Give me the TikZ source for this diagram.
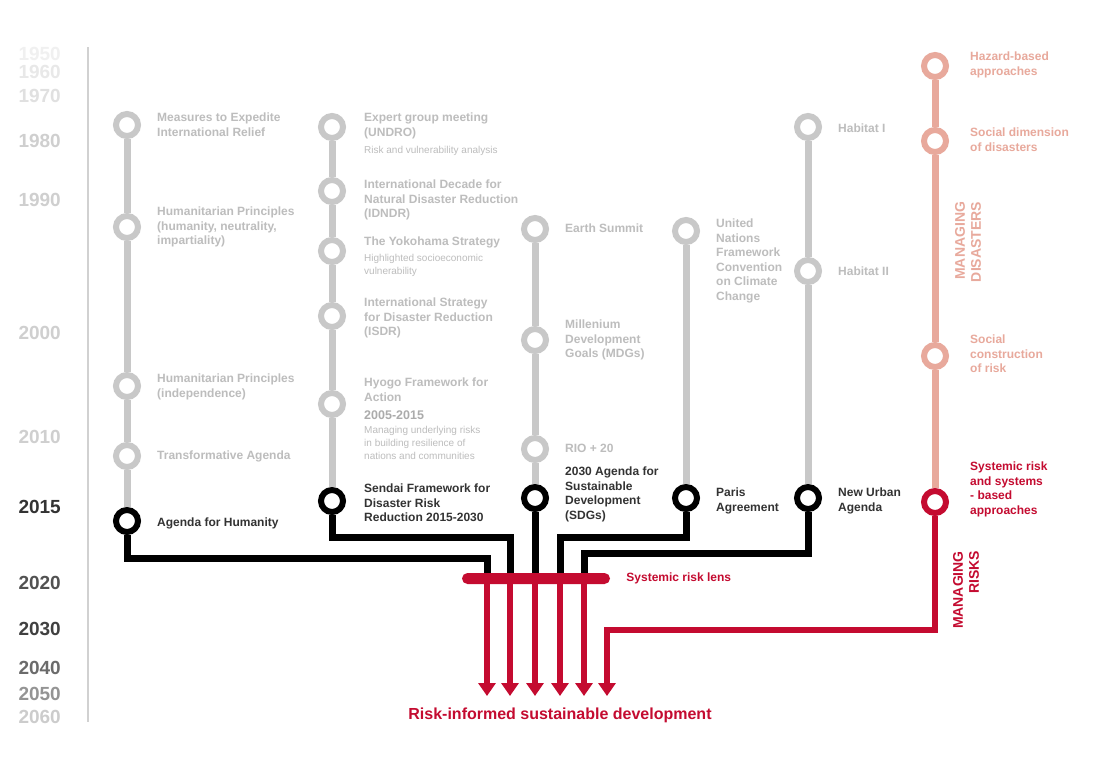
\documentclass[tikz,border=0pt]{standalone}
\usepackage{fontspec}
\setmainfont{Liberation Sans}
\definecolor{tlgray}{HTML}{C8C8C8}
\definecolor{txgray}{HTML}{BDBDBD}
\definecolor{txdark}{HTML}{333333}
\definecolor{drpink}{HTML}{E8A99C}
\definecolor{drred}{HTML}{C40B30}
\usetikzlibrary{arrows.meta,positioning}

\begin{document}
\begin{tikzpicture}[
  x=1pt, y=-1pt,
  ring/.style={circle,draw=tlgray,fill=white,line width=6pt,minimum size=22pt,inner sep=0pt},
  ringk/.style={ring,draw=black},
  ringp/.style={ring,draw=drpink},
  ringr/.style={ring,draw=drred},
  stem/.style={draw=tlgray,line width=7pt},
  link/.style={draw=black,line width=7pt},
  flow/.style={draw=drred,line width=6.5pt,-{Triangle[width=17pt,length=13pt]}},
  lbl/.style={anchor=north west,align=left,inner sep=0pt,text=txgray,
              font=\fontsize{12}{14.6}\selectfont\bfseries},
  lbldark/.style={lbl,text=txdark},
  lblpink/.style={lbl,text=drpink},
  lblred/.style={lbl,text=drred},
  note/.style={anchor=north west,align=left,inner sep=0pt,text=txgray,
               font=\fontsize{10}{12.8}\selectfont},
  yr/.style={anchor=east,inner sep=0pt,font=\fontsize{19}{19}\selectfont\bfseries},
  phase/.style={rotate=90,align=right,inner sep=0pt,font=\fontsize{14}{16}\selectfont\bfseries},
]
  \useasboundingbox (0,0) rectangle (1102,772);
  \fill[white] (0,0) rectangle (1102,772);

  % Time axis
  \draw[black!18,line width=2.5pt] (88,47) -- (88,722);
  \foreach \yv/\yy/\ycol in {1950/54/black!6,1960/72/black!9,1970/96/black!12,
      1980/141/black!19,1990/200/black!19,2000/333/black!19,2010/437/black!19,
      2015/507/black!80,2020/583/black!68,2030/629/black!75,2040/668/black!58,
      2050/694/black!42,2060/717/black!20}
    \node[yr,text=\ycol] (y\yv) at (61,\yy) {\yv};

  % Column 1
  \node[ring]  (c1a) at (127,125) {};
  \node[ring]  (c1b) at (127,227) {};
  \node[ring]  (c1c) at (127,386) {};
  \node[ring]  (c1d) at (127,456) {};
  \node[ringk] (c1e) at (127,521) {};
  \node[lbl] (t1a) at (157,112.5) {Measures to Expedite\\International Relief};
  \node[lbl] (t1b) at (157,206.5) {Humanitarian Principles\\(humanity, neutrality,\\impartiality)};
  \node[lbl] (t1c) at (157,373.5) {Humanitarian Principles\\(independence)};
  \node[lbl] (t1d) at (157,450.5) {Transformative Agenda};
  \node[lbldark] (t1e) at (157,517.5) {Agenda for Humanity};

  % Column 2
  \node[ring]  (c2a) at (332,127) {};
  \node[ring]  (c2b) at (332,191) {};
  \node[ring]  (c2c) at (332,251) {};
  \node[ring]  (c2d) at (332,316) {};
  \node[ring]  (c2e) at (332,404) {};
  \node[ringk] (c2f) at (332,501) {};
  \node[lbl]  (t2a) at (364,112.5) {Expert group meeting\\(UNDRO)};
  \node[note] (n2a) at (364,146.5) {Risk and vulnerability analysis};
  \node[lbl]  (t2b) at (364,179.5) {International Decade for\\Natural Disaster Reduction\\(IDNDR)};
  \node[lbl]  (t2c) at (364,236.5) {The Yokohama Strategy};
  \node[note] (n2c) at (364,254.5) {Highlighted socioeconomic\\vulnerability};
  \node[lbl]  (t2d) at (364,297.5) {International Strategy\\for Disaster Reduction\\(ISDR)};
  \node[lbl]  (t2e) at (364,377.5) {Hyogo Framework for\\Action};
  \node[note,font=\fontsize{12.5}{14}\selectfont\bfseries,text=black!33] (d2e) at (364,410.5) {2005-2015};
  \node[note] (n2e) at (364,426.5) {Managing underlying risks\\in building resilience of\\nations and communities};
  \node[lbldark] (t2f) at (364,483.5) {Sendai Framework for\\Disaster Risk\\Reduction 2015-2030};

  % Column 3
  \node[ring]  (c3a) at (535,229) {};
  \node[ring]  (c3b) at (535,340) {};
  \node[ring]  (c3c) at (535,449) {};
  \node[ringk] (c3d) at (535,498) {};
  \node[lbl] (t3a) at (565,223.5) {Earth Summit};
  \node[lbl] (t3b) at (565,319.5) {Millenium\\Development\\Goals (MDGs)};
  \node[lbl] (t3c) at (565,443.5) {RIO + 20};
  \node[lbldark] (t3d) at (565,466.5) {2030 Agenda for\\Sustainable\\Development\\(SDGs)};

  % Column 4
  \node[ring]  (c4a) at (686,231) {};
  \node[ringk] (c4b) at (686,498) {};
  \node[lbl] (t4a) at (716,218.5) {United\\Nations\\Framework\\Convention\\on Climate\\Change};
  \node[lbldark] (t4b) at (716,487.5) {Paris\\Agreement};

  % Column 5
  \node[ring]  (c5a) at (808,127) {};
  \node[ring]  (c5b) at (808,271) {};
  \node[ringk] (c5c) at (808,498) {};
  \node[lbl] (t5a) at (838,123.5) {Habitat I};
  \node[lbl] (t5b) at (838,266.5) {Habitat II};
  \node[lbldark] (t5c) at (838,487.5) {New Urban\\Agenda};

  % Column 6
  \node[ringp] (c6a) at (935,66) {};
  \node[ringp] (c6b) at (935,141) {};
  \node[ringp] (c6c) at (935,356) {};
  \node[ringr] (c6d) at (935,502) {};
  \node[lblpink] (t6a) at (970,51.5) {Hazard-based\\approaches};
  \node[lblpink] (t6b) at (970,127.5) {Social dimension\\of disasters};
  \node[lblpink] (t6c) at (970,334.5) {Social\\construction\\of risk};
  \node[lblred] (t6d) at (970,461.5) {Systemic risk\\and systems\\- based\\approaches};
  \node[phase,text=drpink] (pdis) at (968,242) {MANAGING\\DISASTERS};
  \node[phase,text=drred] (prisk) at (966,590) {MANAGING\\RISKS};

  % Stems
  \foreach \a/\b in {c1a/c1b,c1b/c1c,c1c/c1d,c1d/c1e,
      c2a/c2b,c2b/c2c,c2c/c2d,c2d/c2e,c2e/c2f,
      c3a/c3b,c3b/c3c,c3c/c3d,c4a/c4b,c5a/c5b,c5b/c5c}
    \draw[stem] (\a) -- (\b);
  \foreach \a/\b in {c6a/c6b,c6b/c6c,c6c/c6d}
    \draw[stem,draw=drpink] (\a) -- (\b);

  % Joints on the lens
  \coordinate (k1) at (487,558);
  \coordinate (k2) at (510,537);
  \coordinate (k4) at (560,537);
  \coordinate (k5) at (584,553);
  \coordinate (k6) at (607,630);
  \foreach \i/\xx in {1/487,2/510,3/535,4/560,5/584} {
    \coordinate (j\i) at (\xx,573);
    \coordinate (e\i) at (\xx,696);
  }
  \coordinate (e6) at (607,696);

  \draw[link] (c1e) |- (k1) -- (j1);
  \draw[link] (c2f) |- (k2) -- (j2);
  \draw[link] (c3d) -- (j3);
  \draw[link] (c4b) |- (k4) -- (j4);
  \draw[link] (c5c) |- (k5) -- (j5);

  \foreach \i in {1,...,5}
    \draw[flow] (j\i) -- (e\i);
  \draw[flow] (c6d) |- (k6) -- (e6);

  \node[fill=drred,rounded corners=5.5pt,minimum width=148pt,minimum height=11pt,inner sep=0pt]
    (lens) at (536,578.5) {};
  \node[lblred,anchor=west,right=16pt of lens] (lenslbl) {Systemic risk lens};

  \node[inner sep=0pt,text=drred,font=\fontsize{16}{18}\selectfont\bfseries]
    (goal) at (560,715) {Risk-informed sustainable development};
\end{tikzpicture}
\end{document}
